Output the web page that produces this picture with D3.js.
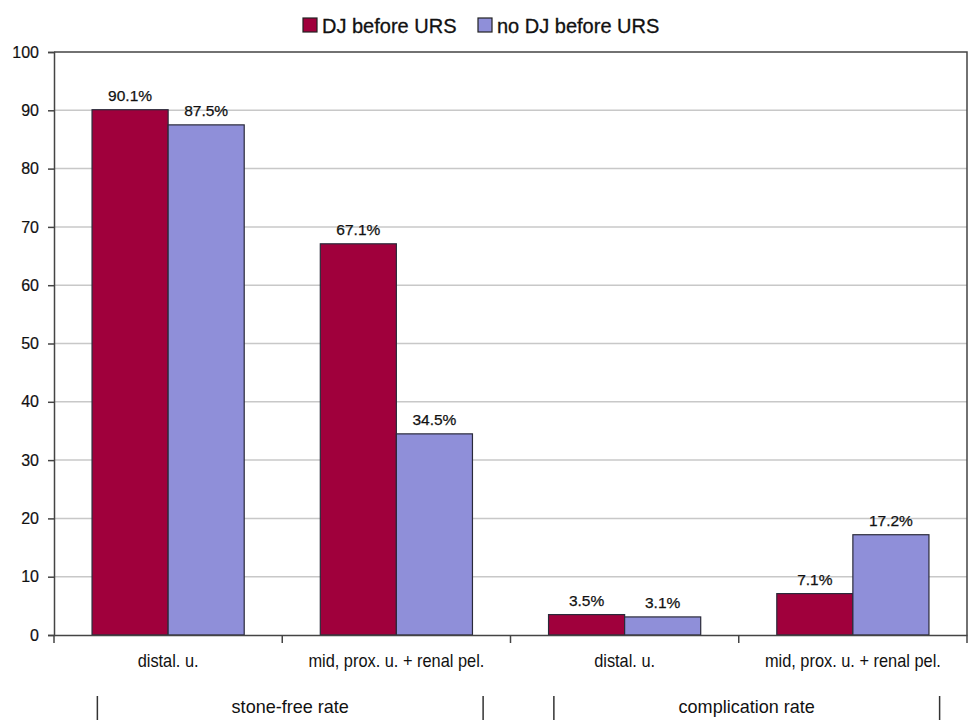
<!DOCTYPE html>
<html>
<head>
<meta charset="utf-8">
<script src="https://cdn.jsdelivr.net/npm/d3@7"></script>
<style>
  html, body { margin: 0; padding: 0; background: #fff; }
  svg { display: block; }
</style>
</head>
<body>
<svg id="chart" width="973" height="720"></svg>
<script>
// ---- data ----
const categories = ["distal. u.", "mid, prox. u. + renal pel.", "distal. u.", "mid, prox. u. + renal pel."];
const series = ["DJ before URS", "no DJ before URS"];
const djBefore = [90.1, 67.1, 3.5, 7.1];
const noDjBefore = [87.5, 34.5, 3.1, 17.2];
const yTicks = [0, 10, 20, 30, 40, 50, 60, 70, 80, 90, 100];
const groupLabels = ["stone-free rate", "complication rate"];
const groupSpans = [[0, 1], [2, 3]];

const colors = ["#A0003C", "#8F8FD9"];
const svg = d3.select("#chart");
const M = { left: 54, right: 967, top: 52, bottom: 635 };

const x = d3.scaleBand().domain(d3.range(categories.length)).range([M.left, M.right]).paddingInner(0).paddingOuter(0);
const xs = d3.scaleBand().domain(d3.range(series.length)).range([0, x.bandwidth()]).paddingInner(0).paddingOuter(0.5);
const y = d3.scaleLinear().domain([0, 100]).range([M.bottom, M.top]);

const sans = "'Liberation Sans', Arial, sans-serif";

// gridlines
svg.append("g").selectAll("line").data(yTicks.filter(t => t > 0 && t < 100)).join("line")
  .attr("x1", M.left).attr("x2", M.right)
  .attr("y1", d => y(d)).attr("y2", d => y(d))
  .attr("stroke", "#c8c8c8").attr("stroke-width", 1.5);

// plot border top/right
svg.append("path")
  .attr("d", `M${M.left},${y(100)}H${M.right}V${M.bottom}`)
  .attr("fill", "none").attr("stroke", "#444").attr("stroke-width", 1.5);

// bars
const data = categories.map((c, i) => [djBefore[i], noDjBefore[i]]);
const groups = svg.append("g").selectAll("g").data(data).join("g")
  .attr("transform", (d, i) => `translate(${x(i)},0)`);
groups.selectAll("rect").data(d => d.map((v, s) => ({ v, s }))).join("rect")
  .attr("x", d => xs(d.s)).attr("width", xs.bandwidth())
  .attr("y", d => y(d.v)).attr("height", d => y(0) - y(d.v))
  .attr("fill", d => colors[d.s]).attr("stroke", "#2a2a3a").attr("stroke-width", 1.2);

// value labels
groups.selectAll("text").data(d => d.map((v, s) => ({ v, s }))).join("text")
  .attr("x", d => xs(d.s) + xs.bandwidth() / 2)
  .attr("y", d => y(d.v) - 9)
  .attr("text-anchor", "middle")
  .attr("font-family", sans).attr("font-size", 15.5)
  .attr("fill", "#111").attr("stroke", "#111").attr("stroke-width", 0.25)
  .text(d => d.v.toFixed(1) + "%");

// y axis
const yAxis = svg.append("g").attr("transform", `translate(${M.left},0)`)
  .call(d3.axisLeft(y).tickValues(yTicks).tickSize(6).tickPadding(9).tickFormat(d3.format("d")));
yAxis.select(".domain").attr("stroke", "#444").attr("stroke-width", 1.5);
yAxis.selectAll(".tick line").attr("stroke", "#444").attr("stroke-width", 1.5);
yAxis.selectAll(".tick text").attr("font-family", sans).attr("font-size", 16).attr("fill", "#111")
  .attr("stroke", "#111").attr("stroke-width", 0.2);

// x axis
const xAxis = svg.append("g").attr("transform", `translate(0,${M.bottom})`)
  .call(d3.axisBottom(x).tickSize(0).tickFormat(i => categories[i]).tickPadding(0));
xAxis.select(".domain").attr("stroke", "#444").attr("stroke-width", 1.5);
xAxis.selectAll(".tick text")
  .attr("dy", null).attr("y", 32)
  .attr("font-family", sans).attr("font-size", 18).attr("fill", "#111")
  .attr("transform", "scale(0.91,1)");
// boundary ticks
svg.append("g").selectAll("line").data(d3.range(categories.length + 1)).join("line")
  .attr("x1", i => i < categories.length ? x(i) : M.right)
  .attr("x2", i => i < categories.length ? x(i) : M.right)
  .attr("y1", M.bottom).attr("y2", M.bottom + 8)
  .attr("stroke", "#444").attr("stroke-width", 1.5);

// group labels
const gl = svg.append("g");
groupSpans.forEach((sp, gi) => {
  const x0 = x(sp[0]) + x.bandwidth() * 0.19;
  const x1 = x(sp[1]) + x.bandwidth() * 0.88;
  gl.append("line").attr("x1", x0).attr("x2", x0).attr("y1", 696).attr("y2", 720).attr("stroke", "#333").attr("stroke-width", 1.5);
  gl.append("line").attr("x1", x1).attr("x2", x1).attr("y1", 696).attr("y2", 720).attr("stroke", "#333").attr("stroke-width", 1.5);
  gl.append("text").attr("transform", `translate(${(x0 + x1) / 2},713) scale(0.95,1)`).attr("text-anchor", "middle")
    .attr("font-family", sans).attr("font-size", 19).attr("fill", "#111").text(groupLabels[gi]);
});

// legend
const leg = svg.append("g");
const legX = [303, 478];
series.forEach((s, i) => {
  leg.append("rect").attr("x", legX[i]).attr("y", 18).attr("width", 14).attr("height", 14)
    .attr("fill", colors[i]).attr("stroke", "#222").attr("stroke-width", 1.2);
  leg.append("text").attr("x", legX[i] + 19).attr("y", 33)
    .attr("font-family", sans).attr("font-size", 20).attr("fill", "#111")
    .attr("stroke", "#111").attr("stroke-width", 0.3).text(s);
});
</script>
</body>
</html>
